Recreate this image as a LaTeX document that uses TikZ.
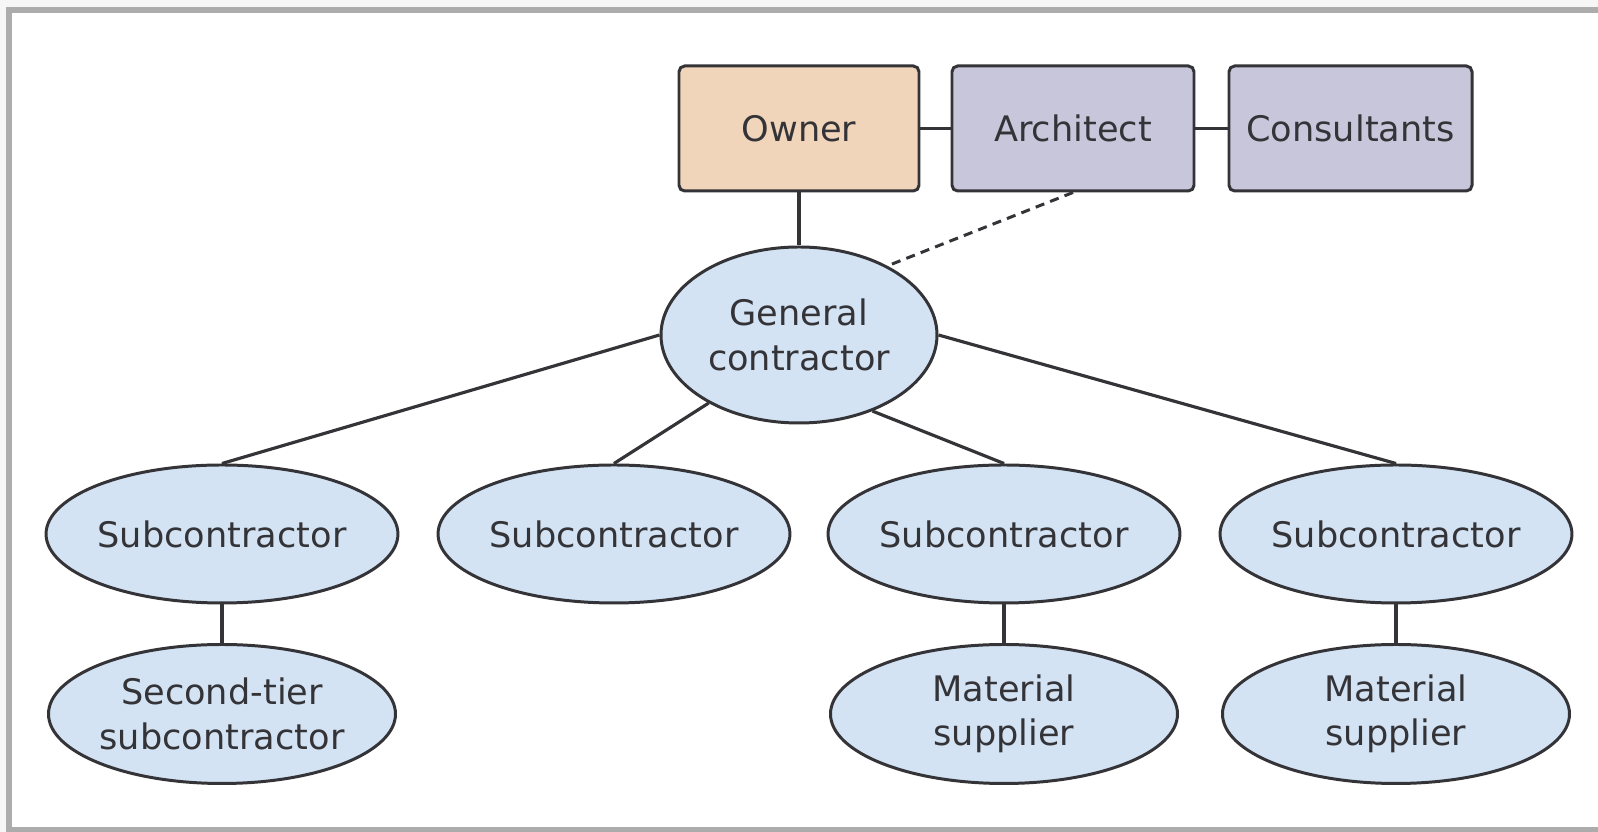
\documentclass[tikz,border=0pt]{standalone}
\usepackage{fontspec}
\setmainfont{DejaVu Sans}
\usepackage{tikz}
\usetikzlibrary{positioning,shapes.geometric}

\definecolor{ownerfill}{RGB}{240,213,186}
\definecolor{archfill}{RGB}{200,198,219}
\definecolor{ovalfill}{RGB}{211,227,243}
\definecolor{inkgray}{RGB}{52,52,56}

\begin{document}
\begin{tikzpicture}[
  orgbox/.style={rectangle, rounded corners=1.6pt, draw=inkgray, line width=0.85pt, minimum width=2.40cm, minimum height=1.25cm, inner sep=1pt, font={\fontsize{10}{12.8}\selectfont}, text=inkgray},
  orgoval/.style={ellipse, draw=inkgray, line width=0.85pt, fill=ovalfill, minimum width=3.47cm, minimum height=1.38cm, inner sep=0pt, align=center, font={\fontsize{10}{12.6}\selectfont}, text=inkgray},
  orgedge/.style={line width=0.9pt, draw=inkgray},
  advedge/.style={line width=0.85pt, draw=inkgray, dash pattern=on 2.6pt off 1.8pt}
]
\useasboundingbox (0,0) rectangle (15.98,-8.32);
\fill[gray!7] (0,0) rectangle (15.98,-8.32);
\fill[white] (0.09,-0.10) rectangle (15.98,-8.30);
\draw[gray!65, line width=1.5pt] (15.98,-0.10) -- (0.09,-0.10) -- (0.09,-8.30) -- (15.98,-8.30);

\node[orgbox, fill=ownerfill] (owner) at (7.99,-1.285) {Owner};
\node[orgbox, fill=archfill, minimum width=2.42cm] (arch) at (10.73,-1.285) {Architect};
\node[orgbox, fill=archfill, minimum width=2.43cm] (cons) at (13.505,-1.285) {Consultants};

\node[orgoval, minimum width=2.76cm, minimum height=1.76cm] (gc) at (7.99,-3.35) {General\\contractor};

\node[orgoval] (s1) at (2.22,-5.34) {Subcontractor};
\node[orgoval] (s2) at (6.14,-5.34) {Subcontractor};
\node[orgoval] (s3) at (10.04,-5.34) {Subcontractor};
\node[orgoval] (s4) at (13.96,-5.34) {Subcontractor};

\node[orgoval, minimum height=1.39cm] (t1) at (2.22,-7.14) {Second-tier\\subcontractor};
\node[orgoval, minimum height=1.39cm] (m3) at (10.04,-7.14) {Material\\supplier};
\node[orgoval, minimum height=1.39cm] (m4) at (13.96,-7.14) {Material\\supplier};

\draw[orgedge] (owner) -- (arch);
\draw[orgedge] (arch) -- (cons);
\draw[orgedge] (owner) -- (gc);
\draw[advedge] (arch.south) -- (gc.38);

\draw[orgedge] (gc.west) -- (s1.north);
\draw[orgedge] (gc.217) -- (s2.north);
\draw[orgedge] (gc.314) -- (s3.north);
\draw[orgedge] (gc.east) -- (s4.north);

\draw[orgedge] (s1) -- (t1);
\draw[orgedge] (s3) -- (m3);
\draw[orgedge] (s4) -- (m4);
\end{tikzpicture}
\end{document}
